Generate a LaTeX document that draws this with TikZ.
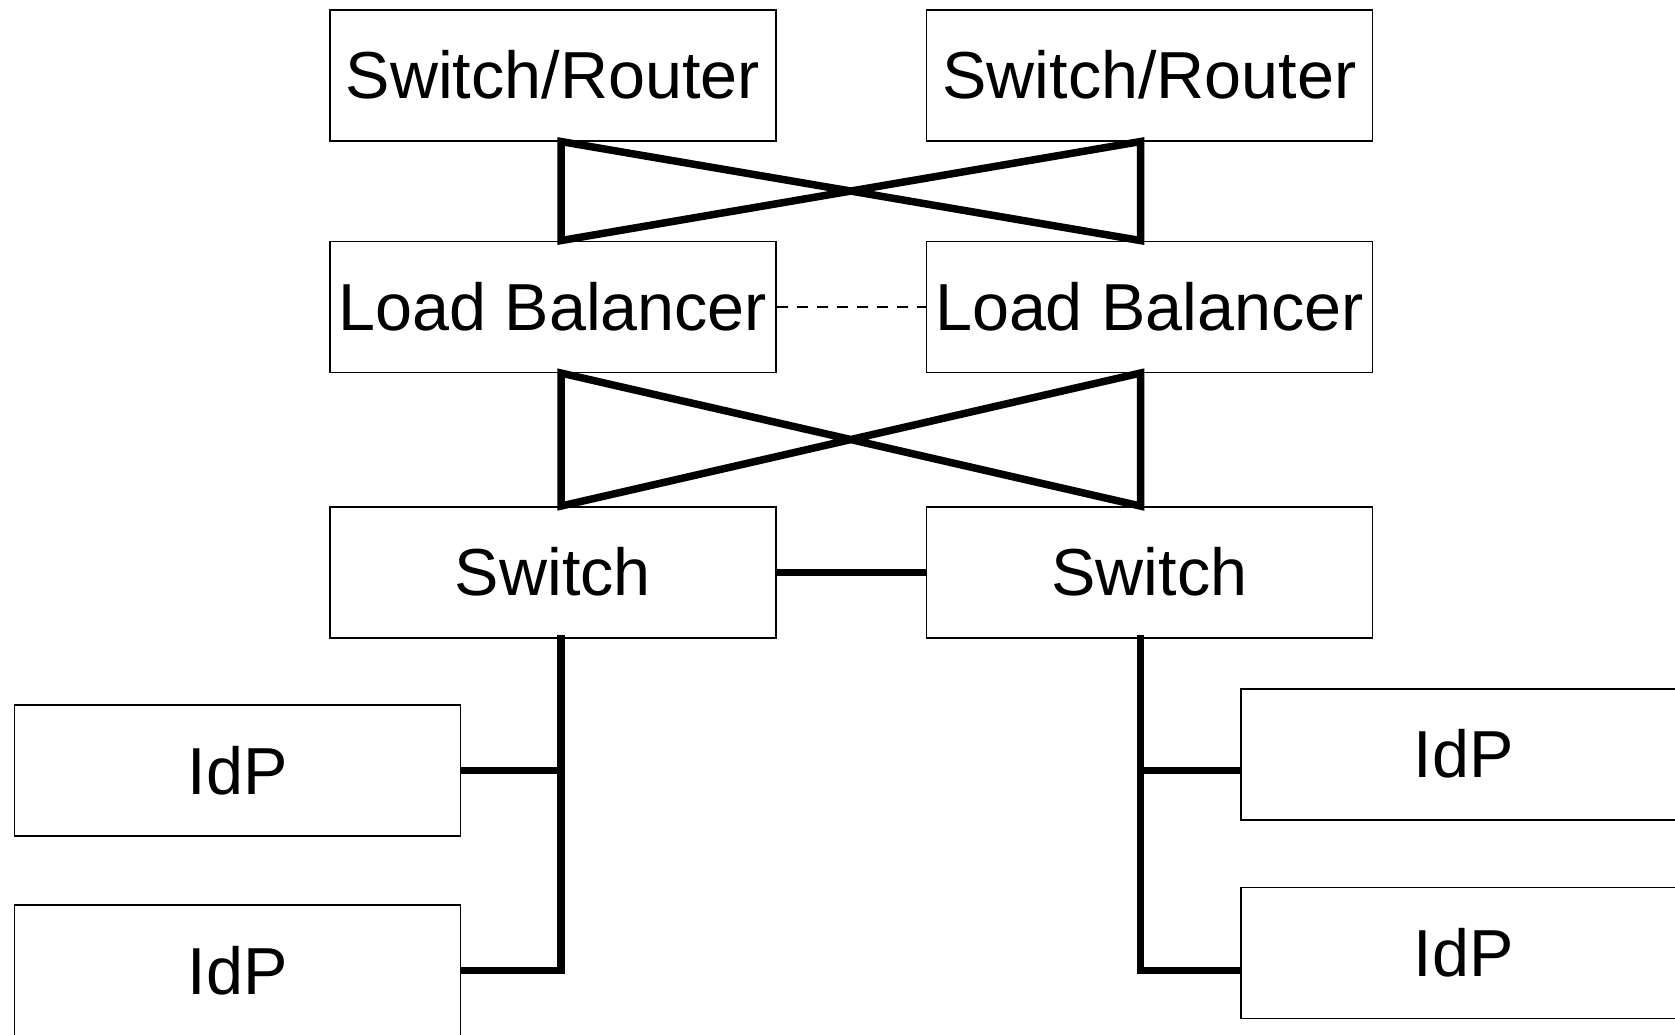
\documentclass[tikz,border=0pt]{standalone}
\usepackage{fontspec}
\setmainfont{Liberation Sans}
\usetikzlibrary{calc}
\tikzstyle{box}=[draw, rectangle, line width=1.5pt, minimum width=446pt, minimum height=131pt, inner sep=0pt, text height=47pt, text depth=0pt, font=\fontsize{66.5}{72}\selectfont]
\tikzstyle{link}=[line width=7.5pt, line cap=rect, line join=miter]
\tikzstyle{tap}=[line width=7.5pt, line cap=butt]
\tikzstyle{sync}=[line width=2.5pt, line cap=butt, dash pattern=on 11.7pt off 8.3pt]

\begin{document}
\begin{tikzpicture}[x=1pt,y=-1pt]
          \useasboundingbox (0,0) rectangle (1675,1034);
          \clip (0,0) rectangle (1675,1034);
          %ejes de enlaces
          \coordinate (xl) at (561,0);
          \coordinate (xr) at (1140.5,0);
          %switch/router
          \node[box] (sr1) at (552.8,75.3) {Switch/Router};
          \node[box] (sr2) at (1149.5,75.3) {Switch/Router};
          %load balancer
          \node[box] (lb1) at (552.8,306.8) {Load Balancer};
          \node[box] (lb2) at (1149.5,306.8) {Load Balancer};
          %switch
          \node[box] (sw1) at (552.8,572.3) {Switch};
          \node[box] (sw2) at (1149.5,572.3) {Switch};
          %idp
          \node[box] (idp1) at (237.7,770.5) {IdP};
          \node[box] (idp2) at (237.7,970.5) {IdP};
          \node[box] (idp3) at (1463.8,754.3) {IdP};
          \node[box] (idp4) at (1463.8,952.8) {IdP};
          %cruces
          \draw[link] (xl |- lb1.north) -- (xl |- sr1.south) -- (xr |- lb2.north) -- (xr |- sr2.south) -- cycle;
          \draw[link] (xl |- sw1.north) -- (xl |- lb1.south) -- (xr |- sw2.north) -- (xr |- lb2.south) -- cycle;
          \draw[sync] (lb1.east) -- (lb2.west);
          \draw[tap] (sw1.east) -- (sw2.west);
          %ramas izquierda
          \draw[link] (xl |- sw1.south) -- (xl |- idp2.east);
          \draw[tap] (xl |- idp1.east) -- (idp1.east);
          \draw[tap] (xl |- idp2.east) -- (idp2.east);
          %ramas derecha
          \draw[link] (xr |- sw2.south) -- (xr |- idp2.east);
          \draw[tap] (xr |- idp1.east) -- (idp3.west |- idp1.east);
          \draw[tap] (xr |- idp2.east) -- (idp4.west |- idp2.east);
        \end{tikzpicture}
\end{document}
